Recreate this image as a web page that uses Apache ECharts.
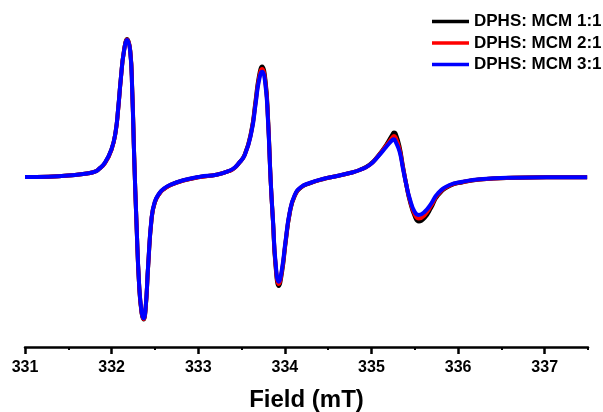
<!DOCTYPE html>
<html>
<head>
<meta charset="utf-8">
<script src="https://cdn.jsdelivr.net/npm/echarts@6/dist/echarts.min.js"></script>
<style>html,body{margin:0;padding:0;background:#fff;}#c{width:603px;height:412px;}</style>
</head>
<body>
<div id="c"></div>
<script>
// Field (mT) sample positions
var field = [331.000,331.269,331.577,331.730,331.807,331.845,331.923,332.000,332.046,332.076,332.107,332.142,332.180,332.215,332.238,332.261,332.288,332.318,332.346,332.369,332.392,332.422,332.461,332.499,332.557,332.607,332.672,332.826,333.018,333.211,333.364,333.422,333.460,333.537,333.615,333.661,333.699,333.737,333.776,333.806,333.837,333.864,333.892,333.930,333.968,334.007,334.057,334.114,334.191,334.287,334.437,334.576,334.749,334.864,334.979,335.075,335.172,335.241,335.260,335.279,335.325,335.363,335.403,335.441,335.498,335.548,335.614,335.691,335.767,335.902,336.055,336.248,336.632,337.017,337.490];
// EPR intensity (a.u.) for each sample
var mcm11 = [0,0.3,2,3.7,5.3,7.3,14,28,45,68.5,99,126,138,126.5,87,20,-48,-109,-136,-142.5,-132.5,-89,-42.5,-25.5,-16,-11.8,-8.3,-3.5,0,2.2,6.2,9.3,12.8,22.5,47,75.5,100,110.5,97,58.5,-4.5,-46,-88,-109,-95,-67,-36,-19,-10.3,-6.3,-2.2,0.5,4,7,12.3,21,32.5,42.5,44.5,43.5,30,11,-8,-23.5,-39,-44.5,-41,-30.5,-18.5,-9,-5.2,-2.6,-0.8,-0.3,-0.3];
var mcm21 = [0,0.3,2,3.7,5.3,7.3,13.8,27.7,44.8,68,98.5,125.5,137.5,126,86.5,19.5,-48,-108.5,-135.5,-142,-132,-88.5,-42,-25.2,-16,-11.8,-8.3,-3.5,0,2.2,6.2,9.3,12.8,22,46,73.5,97.5,108,94.5,57,-4.5,-45.5,-86.5,-107,-93,-66,-35.5,-18.5,-10,-6.2,-2.1,0.5,4,7,12,20.8,31.5,39.5,41,39.5,27.5,10,-8,-22.5,-37,-41.5,-38,-28.5,-17.5,-8.5,-5,-2.5,-0.8,-0.3,-0.3];
var mcm31 = [0,0.3,2,3.7,5.3,7.3,14.3,28.2,45.3,68.7,99,125.3,137,125.3,85.3,18.7,-48,-108,-134.7,-141.3,-131.3,-88,-41.3,-24.7,-15.5,-11.3,-8,-3.3,0.3,2.3,6.5,9.5,13,22,45.3,72,95.3,105.3,92,55.3,-4.7,-44.7,-84.7,-104.7,-91.3,-64.7,-34.7,-18,-9.7,-6,-2,0.5,4,7,12,20.3,30.3,37,37.8,35.3,25.3,8.7,-8,-21.3,-34.7,-38,-34.7,-26.3,-16.3,-8,-4.7,-2.3,-0.7,-0.3,-0.3];
var seriesNames = ['DPHS: MCM 1:1','DPHS: MCM 2:1','DPHS: MCM 3:1'];
var seriesColors = ['#000000','#ff0000','#0000ff'];
var majorTicks = [331,332,333,334,335,336,337];
var minorTicks = [331.5,332.5,333.5,334.5,335.5,336.5,337.5];

function pairs(v){ return field.map(function(f,i){ return [f, v[i]]; }); }
var values = [mcm11, mcm21, mcm31];
var FONT = 'Arial, "Liberation Sans", sans-serif';

var chart = echarts.init(document.getElementById('c'), null, {renderer:'canvas'});
chart.setOption({
  animation:false,
  backgroundColor:'#ffffff',
  grid:{left:25, right:15, top:20, bottom:65, containLabel:false, outerBoundsMode:'none'},
  legend:{
    orient:'vertical', left:432, top:13, padding:0, itemGap:4.5,
    itemWidth:37, itemHeight:3.5, icon:'rect',
    textStyle:{fontFamily:FONT, fontWeight:'bold', fontSize:17, color:'#000'},
    data:seriesNames
  },
  xAxis:[{
    type:'value', min:331, max:337.5,
    axisLine:{show:true, onZero:false, lineStyle:{color:'#000', width:2.5}},
    axisTick:{show:true, customValues:majorTicks, length:7, lineStyle:{color:'#000', width:2.5}},
    axisLabel:{show:true, customValues:majorTicks, margin:13, fontFamily:FONT, fontWeight:'bold', fontSize:16, color:'#000'},
    splitLine:{show:false},
    name:'Field (mT)', nameLocation:'middle', nameGap:41,
    nameTextStyle:{fontFamily:FONT, fontWeight:'bold', fontSize:24, color:'#000'}
  },{
    type:'value', min:331, max:337.5, position:'bottom',
    axisLine:{show:false, onZero:false},
    axisTick:{show:true, customValues:minorTicks, length:3, lineStyle:{color:'#000', width:2}},
    axisLabel:{show:false},
    splitLine:{show:false}
  }],
  yAxis:{type:'value', min:-170, max:157, show:false, splitLine:{show:false}},
  series: seriesNames.map(function(n,i){
    return {
      name:n, type:'line', xAxisIndex:0, data:pairs(values[i]),
      showSymbol:false, symbol:'none', smooth:0.5, z:2+i,
      lineStyle:{color:seriesColors[i], width:4},
      itemStyle:{color:seriesColors[i]}
    };
  })
});
</script>
</body>
</html>
